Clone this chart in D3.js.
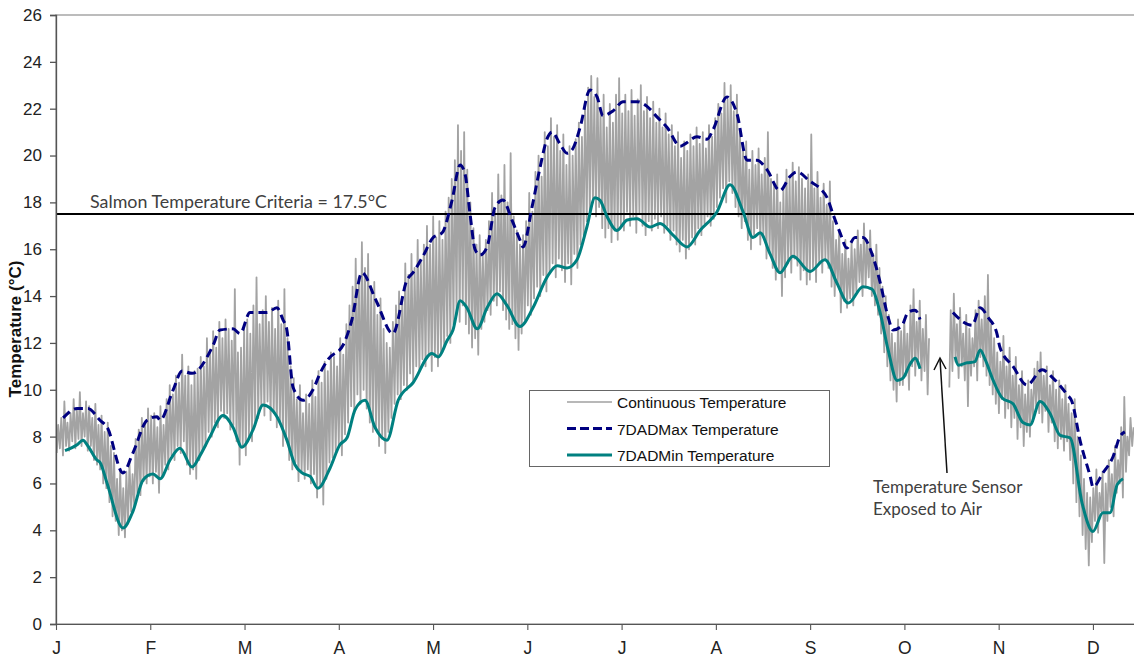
<!DOCTYPE html>
<html><head><meta charset="utf-8">
<script src="https://cdn.jsdelivr.net/npm/d3@7"></script>
<style>
html,body{margin:0;padding:0;background:#fff;}
svg{display:block;}
</style></head>
<body>
<svg id="chart" width="1134" height="662"></svg>
<script>
// ---------- DATA ----------
const monthLabels = ["J","F","M","A","M","J","J","A","S","O","N","D"];
const yTicks = [0,2,4,6,8,10,12,14,16,18,20,22,24,26];
const criteria = 17.5;

// Daily maximum of the continuous record (day 0 = Jan 1); null = sensor out of water
const dailyMax = [
 8.5,8.8,9.5,8.6,9.0,9.6,9.2,9.9,9.0,9.5,9.3,8.8,9.4,8.5,8.9,8.2,8.6,7.6,7.3,6.2,6.6,5.8,6.5,6.9,6.4,7.9,8.3,8.8,8.6,9.2,8.9,
 9.0,8.4,9.3,8.5,9.6,10.2,9.8,10.6,10.3,11.5,10.6,11.0,10.2,10.8,10.9,11.4,11.0,12.2,11.6,12.5,11.8,12.9,12.2,13.0,12.6,12.1,14.3,11.6,
 11.8,12.6,13.0,12.4,13.6,14.8,12.8,13.4,14.0,12.9,13.5,12.6,13.8,12.8,14.3,12.2,11.0,10.5,9.6,10.2,9.0,9.8,9.4,10.4,9.7,10.8,10.3,11.2,10.8,11.6,11.4,
 11.0,12.2,11.5,12.8,13.6,14.4,15.6,14.8,16.3,15.2,15.8,14.4,14.6,13.2,13.9,12.6,12.0,11.8,12.9,13.6,14.2,13.8,15.4,14.9,15.8,15.2,16.4,15.5,16.2,17.0,
 16.2,17.4,16.5,17.2,16.4,17.6,18.2,19.0,19.8,21.3,20.2,21.0,19.4,18.0,16.9,16.2,16.6,15.8,16.4,17.2,18.4,17.6,19.2,18.3,19.6,18.0,20.1,17.4,16.8,16.2,16.6,
 17.2,18.4,17.6,19.3,20.0,19.1,21.0,20.4,21.6,20.8,21.3,20.2,20.9,19.6,20.4,20.0,20.7,21.4,20.8,22.3,22.9,23.4,22.5,23.3,22.0,22.6,21.2,22.2,21.4,22.6,
 23.3,21.8,22.6,21.9,22.8,21.7,22.4,23.0,21.9,22.5,21.6,22.3,21.4,22.0,21.2,21.8,20.9,21.3,20.4,21.0,19.9,20.6,20.2,20.9,20.4,21.2,20.5,21.0,20.3,21.3,20.8,
 21.6,22.2,21.8,23.1,22.4,23.0,21.9,22.6,21.0,20.2,20.6,19.4,20.2,19.6,20.3,19.2,19.9,21.0,19.0,18.8,19.2,18.0,18.6,19.4,19.0,19.7,18.9,19.5,19.0,18.6,19.2,
 20.9,18.6,19.3,18.2,18.8,17.9,18.9,17.2,16.4,16.8,15.8,16.4,15.6,16.3,16.0,16.8,16.2,17.1,16.4,16.8,15.8,16.2,15.2,14.4,14.0,13.2,12.4,12.0,13.0,12.5,
 13.0,12.4,13.6,14.3,12.9,13.8,12.6,13.2,12.2,null,null,null,null,null,null,13.4,14.1,12.8,13.5,12.4,13.2,12.6,12.2,13.4,13.8,13.0,14.0,14.9,12.8,12.2,11.6,
 11.2,12.3,11.0,11.8,10.6,11.4,10.2,10.8,9.8,10.4,10.0,10.9,11.2,11.6,10.6,11.0,10.2,10.8,10.0,10.4,9.6,10.2,9.4,9.0,9.6,8.0,7.2,6.2,5.6,5.4,
 5.8,6.6,5.6,6.5,6.0,7.0,6.4,7.6,7.0,8.4,9.7,8.0,8.8,8.4
];
// Daily minimum of the continuous record
const dailyMin = [
 7.3,7.5,7.2,7.6,7.4,7.8,7.5,7.9,7.6,8.0,7.4,7.6,7.0,6.8,6.6,6.0,5.8,5.2,4.6,4.4,3.8,4.0,3.7,4.3,4.8,5.0,5.6,5.5,6.1,6.0,6.3,
 6.0,6.5,5.6,6.3,6.8,6.6,7.2,7.0,7.6,7.3,7.8,6.8,6.4,6.6,6.2,7.0,7.4,7.6,8.2,8.0,8.6,8.4,9.1,8.8,9.0,8.3,8.5,7.8,
 6.8,7.6,7.2,8.0,7.8,8.6,8.8,9.3,8.9,9.5,8.7,9.0,8.4,8.6,7.6,7.9,7.0,6.6,6.9,6.1,6.5,6.2,6.6,6.0,6.4,5.4,5.9,5.1,6.2,6.9,7.1,
 7.3,7.6,7.2,8.1,8.6,9.3,9.0,9.8,9.4,10.0,9.2,8.6,8.2,8.4,7.6,7.9,7.3,8.2,8.8,9.4,9.8,9.6,10.2,10.0,10.7,10.4,11.0,10.8,11.3,11.0,
 11.5,10.8,11.4,11.0,11.6,11.8,12.3,12.0,12.8,13.2,12.9,13.6,12.8,12.4,11.8,12.2,11.5,12.6,12.9,13.4,13.2,13.8,13.6,14.2,13.4,13.0,12.6,12.8,12.2,11.7,12.4,
 13.0,13.6,13.2,13.9,14.4,14.0,14.9,14.2,15.0,15.4,14.8,15.6,15.1,14.6,15.4,14.5,15.8,15.2,16.2,16.6,17.2,17.6,18.0,17.4,17.8,16.9,16.5,16.9,16.3,16.8,
 16.4,17.0,16.8,17.6,17.0,17.4,16.7,17.5,17.0,16.6,17.2,16.8,17.3,16.9,17.4,16.7,17.0,16.4,16.8,16.2,15.9,16.4,15.6,16.0,16.5,16.2,16.9,16.6,17.1,17.4,17.0,
 17.3,17.8,18.2,18.6,18.0,18.9,18.4,17.8,17.4,16.9,17.2,16.4,16.0,16.6,16.9,16.2,16.5,15.6,15.9,15.2,14.7,15.0,14.0,14.8,15.4,15.0,15.6,15.3,14.7,15.1,14.5,
 14.7,15.2,14.6,15.4,15.0,15.6,15.2,14.4,14.0,14.5,13.3,13.8,13.5,13.9,13.6,14.2,14.6,14.0,14.4,14.8,14.0,13.6,13.2,12.4,11.6,11.0,10.4,10.0,9.5,10.2,
 10.2,10.6,10.0,11.0,10.6,11.3,10.4,10.8,9.8,null,null,null,null,null,null,10.1,10.8,11.2,10.5,11.0,10.4,9.3,10.6,11.0,10.4,11.4,11.0,10.6,10.2,9.8,9.4,
 9.0,9.6,8.8,9.2,8.4,8.8,7.9,8.4,7.6,8.2,8.0,8.8,9.3,9.0,8.6,9.1,8.2,8.6,7.8,7.5,7.9,7.4,7.8,7.0,6.0,5.2,4.6,3.8,3.2,2.5,
 3.5,4.4,3.9,4.8,2.6,4.4,5.0,4.6,5.6,6.0,5.4,6.5,7.2,7.6
];

// 7-day average of daily maximum (day of year, °C); null marks the data gap
const dadMaxDays  = [2.3,6.8,10.3,14.2,16.5,21.6,24.8,29.4,32.6,33.6,37.8,40.7,43.9,50.7,52.9,57.1,59.4,62.6,68.1,71.3,73.2,74.5,76.5,79.7,82.9,85.2,87.8,92.6,95.5,98.7,103.3,108.7,113.3,115.2,118.4,121.7,124.6,127.8,130.4,132.0,133.6,135.2,136.8,139.1,141.7,144.2,147.1,149.7,150.7,153.6,156.2,158.4,160.1,162.6,164.9,166.8,169.1,172.3,174.6,176.5,179.7,183.0,187.5,190.7,193.9,197.2,201.4,203.0,206.8,210.1,212.0,216.5,219.7,223.0,226.2,229.4,233.6,236.8,239.1,243.3,246.5,248.8,250.7,253.0,255.2,257.8,260.4,263.3,265.9,268.5,270.1,273.0,274.9,277.2,278.8,284,289.4,292.7,295.6,298.2,300.7,303.6,304.6,308.8,313.3,318.2,321.7,326.2,327.8,330.4,333.7,334.6,337.8,341.1,343.3,344.9];
const dadMaxTemps = [8.8,9.2,9.2,8.7,8.4,6.45,7.3,8.7,8.85,8.7,10.0,10.8,10.7,11.9,12.55,12.6,12.4,13.3,13.3,13.5,13.0,12.55,10.1,9.55,10.0,10.7,11.3,11.9,13.0,15.0,13.8,12.4,14.7,15.0,15.7,16.5,16.7,18.1,19.6,19.2,17.5,16.0,15.75,16.1,17.8,18.1,17.25,16.4,16.1,17.8,19.5,20.7,21.0,20.5,20.1,20.3,21.2,22.8,22.5,21.7,21.9,22.3,22.3,22.1,21.65,21.2,20.4,20.5,20.8,20.7,21.1,22.5,21.8,19.8,19.8,19.4,18.5,19.1,19.3,18.9,18.6,18.2,17.5,16.7,16.05,16.5,16.5,15.8,14.6,13.1,12.55,12.75,13.3,13.4,13.0,null,13.3,12.9,12.75,13.5,13.1,12.4,11.8,11.0,10.2,10.85,10.5,9.8,9.5,7.85,6.3,5.85,6.45,7.15,8.0,8.2];

// 7-day average of daily minimum
const dadMinDays  = [2.9,6.8,8.7,10.3,13.2,14.2,16.5,21.6,24.8,28.1,31.3,33.6,36.8,40.0,43.9,46.5,49.7,53.9,57.1,60.0,63.6,66.8,71.3,74.5,77.1,79.4,82.0,84.5,88.4,91.6,93.9,96.5,99.7,102.9,106.8,110.4,115.2,121.3,123.3,126.2,128.1,130.4,132.6,135.9,139.1,142.3,145.5,149.7,153.9,158.4,161.7,164.9,168.1,171.3,173.9,175.5,177.8,181.0,184.3,187.5,191.7,194.9,199.1,203.6,207.8,213.3,217.5,221.7,224.9,227.2,230.4,233.6,237.8,243.3,248.1,252.0,255.6,260.4,263.3,265.9,268.5,271.4,273.3,275.6,277.2,278.8,284,290.1,291.1,294.0,296.5,298.2,299.8,302.4,305.3,308.8,312.0,314.3,317.5,320.7,324.0,327.2,331.1,334.6,337.8,340.1,342.4,344.3];
const dadMinTemps = [7.4,7.65,7.85,7.6,7.0,6.9,6.0,4.1,4.8,6.15,6.4,6.2,7.0,7.5,6.7,7.2,8.0,8.9,8.4,7.55,8.3,9.35,8.85,7.85,6.8,6.45,6.3,5.8,6.65,7.65,7.95,9.15,9.55,8.4,7.85,9.55,10.3,11.55,11.4,12.1,12.55,13.8,13.5,12.6,13.5,14.1,13.6,12.7,13.5,14.8,15.3,15.2,15.55,16.95,18.2,18.1,17.4,16.8,17.25,17.3,16.95,17.1,16.6,16.1,16.8,17.6,18.75,17.6,16.5,16.7,15.8,15.0,15.7,15.05,15.55,14.55,13.7,14.4,14.3,13.3,11.7,10.4,10.5,11.1,11.35,10.9,null,11.4,11.05,11.15,11.2,11.7,11.3,10.4,9.65,9.4,8.6,8.5,9.5,9.0,8.05,7.95,5.15,3.95,4.75,4.75,5.95,6.2];

const legendNames = ["Continuous Temperature","7DADMax Temperature","7DADMin Temperature"];

// ---------- CHART ----------
const svg = d3.select("#chart");
const x = d3.scaleLinear().domain([0, 365]).range([56, 1187.2]);
const y = d3.scaleLinear().domain([0, 26]).range([624, 15]);
const monthStarts = monthLabels.map((m, i) => i * 365 / 12);

// plot-area border (top visible; right side is cropped)
svg.append("rect").attr("x", x(0)).attr("y", y(26)).attr("width", x(365) - x(0)).attr("height", y(0) - y(26))
  .attr("fill", "none").attr("stroke", "#a6a6a6").attr("stroke-width", 1.5);

// continuous temperature: alternating daily min / max
const cont = [];
dailyMax.forEach((v, i) => {
  cont.push({t: i + 0.25, v: dailyMin[i]});
  cont.push({t: i + 0.7, v: v});
});
svg.append("path").datum(cont)
  .attr("fill", "none").attr("stroke", "#a3a3a3").attr("stroke-width", 1.8).attr("stroke-linejoin", "round")
  .attr("d", d3.line().defined(d => d.v != null).x(d => x(d.t)).y(d => y(d.v)));

// criteria line
svg.append("line").attr("x1", x(0)).attr("x2", 1134).attr("y1", y(criteria)).attr("y2", y(criteria))
  .attr("stroke", "#000").attr("stroke-width", 2);
svg.append("text").attr("x", 90).attr("y", y(criteria) - 6)
  .attr("font-family", "Lato, 'Open Sans', sans-serif").attr("font-size", 17).attr("fill", "#404040")
  .attr("textLength", 297).attr("lengthAdjust", "spacingAndGlyphs")
  .text("Salmon Temperature Criteria = 17.5°C");

const smooth = d3.line().defined(d => d[1] != null).x(d => x(d[0])).y(d => y(d[1])).curve(d3.curveMonotoneX);
svg.append("path").datum(dadMinDays.map((d, i) => [d, dadMinTemps[i]]))
  .attr("fill", "none").attr("stroke", "#008080").attr("stroke-width", 3).attr("d", smooth);
svg.append("path").datum(dadMaxDays.map((d, i) => [d, dadMaxTemps[i]]))
  .attr("fill", "none").attr("stroke", "#000080").attr("stroke-width", 3).attr("stroke-dasharray", "9,5").attr("d", smooth);

// y axis
const axisColor = "#555";
const gy = svg.append("g").attr("transform", `translate(${x(0)},0)`);
gy.call(d3.axisLeft(y).tickValues(d3.range(0, 26.01, 0.5)).tickSize(-4).tickFormat(""));
gy.call(d3.axisLeft(y).tickValues(yTicks).tickSize(6).tickPadding(8).tickFormat(d3.format("d")));
gy.selectAll("line,path").attr("stroke", axisColor).attr("stroke-width", 1.3);
gy.selectAll("text").attr("font-family", "Arial, 'Liberation Sans', sans-serif").attr("font-size", 17).attr("fill", "#222");

// x axis
const gx = svg.append("g").attr("transform", `translate(0,${y(0)})`);
gx.call(d3.axisBottom(x).tickValues(d3.range(0, 366, 1)).tickSize(-4).tickFormat("").tickSizeOuter(0));
gx.call(d3.axisBottom(x).tickValues(monthStarts).tickSize(6).tickSizeOuter(0).tickPadding(12)
  .tickFormat((d, i) => monthLabels[i]));
gx.selectAll("line,path").attr("stroke", axisColor).attr("stroke-width", 1.1);
gx.selectAll("text").attr("font-family", "Arial, 'Liberation Sans', sans-serif").attr("font-size", 17.5).attr("fill", "#222");

// y title
svg.append("text").attr("transform", "translate(21,329) rotate(-90)").attr("text-anchor", "middle")
  .attr("font-family", "Arial, 'Liberation Sans', sans-serif").attr("font-size", 17).attr("font-weight", "bold").attr("fill", "#111")
  .text("Temperature (°C)");

// legend
const lg = svg.append("g");
lg.append("rect").attr("x", 529.5).attr("y", 390.5).attr("width", 300).attr("height", 76)
  .attr("fill", "#fff").attr("stroke", "#666").attr("stroke-width", 1);
const styles = [
  {c: "#a0a0a0", w: 1.5, dash: null},
  {c: "#000080", w: 3, dash: "9,4"},
  {c: "#008080", w: 3, dash: null}
];
legendNames.forEach((n, i) => {
  const yy = 402 + i * 26.5;
  lg.append("line").attr("x1", 567).attr("x2", 612).attr("y1", yy).attr("y2", yy)
    .attr("stroke", styles[i].c).attr("stroke-width", styles[i].w).attr("stroke-dasharray", styles[i].dash);
  lg.append("text").attr("x", 617).attr("y", yy + 6)
    .attr("font-family", "Arial, 'Liberation Sans', sans-serif").attr("font-size", 15.5).attr("fill", "#111")
    .text(n);
});

// annotation
const ann = svg.append("g");
ann.append("line").attr("x1", 947).attr("y1", 473).attr("x2", 940).attr("y2", 359).attr("stroke", "#111").attr("stroke-width", 1.5);
ann.append("path").attr("d", "M934,370 L940,358 L946,369").attr("fill", "none").attr("stroke", "#111").attr("stroke-width", 1.5);
["Temperature Sensor", "Exposed to Air"].forEach((t, i) => {
  ann.append("text").attr("x", 873).attr("y", 493 + i * 22)
    .attr("font-family", "Lato, 'Open Sans', sans-serif").attr("font-size", 17).attr("fill", "#404040").text(t);
});
</script>
</body></html>
